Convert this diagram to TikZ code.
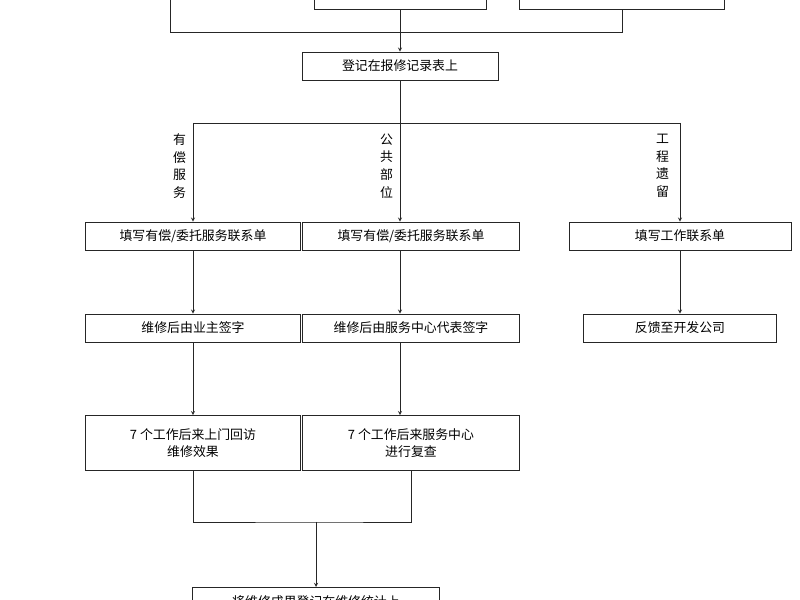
\documentclass[tikz,border=0pt]{standalone}
\usepackage{fontspec}
\newfontfamily\cjk{Noto Sans CJK SC}
\usetikzlibrary{arrows, calc, positioning}

\begin{document}
\begin{tikzpicture}[>=stealth, x=0.03cm, y=-0.03cm, font=\cjk\fontsize{11}{15}\selectfont]
	\tikzstyle{box} = [draw, semithick, draw=black!85, minimum height=0.84cm, inner sep=2pt, align=center]
	\tikzstyle{tall} = [box, minimum height=1.65cm]
	\tikzstyle{lab} = [align=center, inner sep=0pt, text width=1em]
	\tikzstyle{line} = [semithick, draw=black!85]

	\useasboundingbox (0,0) rectangle (800,600);
	\clip (0,0) rectangle (800,600);

	% top (cut off)
	\node[box, minimum width=5.16cm] (topl) at (400,-5) {};
	\node[box, minimum width=6.15cm] (topr) at (622,-5) {};
	\node[box, minimum width=5.88cm] (reg) at (400,66) {登记在报修记录表上};

	% second row
	\node[box, minimum width=6.45cm] (fill1) at (193,236) {填写有偿/委托服务联系单};
	\node[box, minimum width=6.5cm] (fill2) at (411,236) {填写有偿/委托服务联系单};
	\node[box, minimum width=6.66cm] (fill3) at (680,236) {填写工作联系单};

	\node[box, minimum width=6.45cm] (sign1) at (193,328) {维修后由业主签字};
	\node[box, minimum width=6.5cm] (sign2) at (411,328) {维修后由服务中心代表签字};
	\node[box, minimum width=5.8cm] (back) at (680,328) {反馈至开发公司};

	\node[tall, minimum width=6.45cm] (visit1) at (193,443) {7 个工作后来上门回访\\维修效果};
	\node[tall, minimum width=6.5cm] (visit2) at (411,443) {7 个工作后来服务中心\\进行复查};

	\node[box, minimum width=7.4cm, anchor=north] (stat) at (316,587) {将维修成果登记在维修统计上};

	% connectors
	\coordinate (jl) at (170,32);
	\coordinate (jr) at (622,32);
	\draw[line] (170,-10) -- (jl) -- (jr) -- (topr.south);
	\draw[line, ->] (topl.south) -- (reg.north);

	\coordinate (split) at (400,123);
	\draw[line] (reg.south) -- (split);
	\draw[line] (193,123) -- (680,123);
	\draw[line, ->] (193,123) -- (fill1.north);
	\draw[line, ->] (split) -- (fill2.north -| split);
	\draw[line, ->] (680,123) -- (fill3.north);

	\node[lab] at (179,166) {有\\偿\\服\\务};
	\node[lab] at (386,166) {公\\共\\部\\位};
	\node[lab] at (662,166) {工\\程\\遗\\留};

	\draw[line, ->] (fill1) -- (sign1);
	\draw[line, ->] (fill2.south -| split) -- (sign2.north -| split);
	\draw[line, ->] (fill3) -- (back);
	\draw[line, ->] (sign1) -- (visit1);
	\draw[line, ->] (sign2.south -| split) -- (visit2.north -| split);

	\coordinate (merge) at (316,522);
	\draw[line] (visit1.south) |- (merge) -| (visit2.south);
	\draw[line, ->] (merge) -- (stat.north);
\end{tikzpicture}
\end{document}
